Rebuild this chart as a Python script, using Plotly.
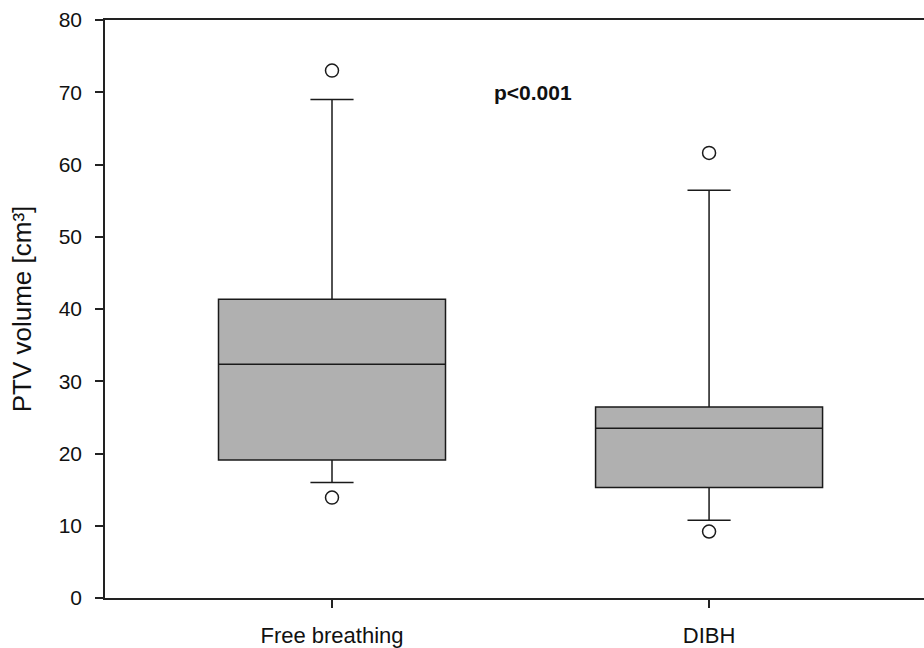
import plotly.graph_objects as go

categories = ["Free breathing", "DIBH"]
q1 = [19.1, 15.3]
median = [32.35, 23.5]
q3 = [41.35, 26.45]
lower_whisker = [16.0, 10.75]
upper_whisker = [69.0, 56.45]
outliers = [[73.0, 13.9], [61.6, 9.2]]

y_ticks = [0, 10, 20, 30, 40, 50, 60, 70, 80]

fig = go.Figure()
fig.add_trace(go.Box(
    x=categories, q1=q1, median=median, q3=q3,
    lowerfence=lower_whisker, upperfence=upper_whisker,
    fillcolor="#b0b0b0", line=dict(color="#1a1a1a", width=1.5),
    width=0.602, whiskerwidth=0.19, boxpoints=False,
    showlegend=False, hoverinfo="skip",
))
ox, oy = [], []
for c, pts in zip(categories, outliers):
    for p in pts:
        ox.append(c)
        oy.append(p)
fig.add_trace(go.Scatter(
    x=ox, y=oy, mode="markers",
    marker=dict(symbol="circle-open", size=13, color="#1a1a1a", line=dict(width=1.5)),
    showlegend=False, hoverinfo="skip",
))
fig.add_annotation(x=0.533, y=70, text="<b>p<0.001</b>", showarrow=False,
                   font=dict(family="Liberation Sans, Arial", size=21, color="#111"))

fig.update_layout(
    width=924, height=648,
    margin=dict(l=105, r=0, t=20, b=46),
    paper_bgcolor="white", plot_bgcolor="white",
    font=dict(family="Liberation Sans, Arial", color="#111"),
    xaxis=dict(
        type="category", range=[-0.602, 1.570],
        showline=True, mirror=True, linecolor="#222", linewidth=1.5,
        ticks="outside", ticklen=8, tickwidth=1.5, tickcolor="#222",
        showgrid=False, zeroline=False, tickfont=dict(size=22),
        ticklabelstandoff=9,
    ),
    yaxis=dict(
        range=[0, 80], tickvals=y_ticks,
        showline=True, linecolor="#222", linewidth=1.5,
        ticks="outside", ticklen=8, tickwidth=1.5, tickcolor="#222",
        showgrid=False, zeroline=False, tickfont=dict(size=21),
        ticklabelstandoff=9,
        title=dict(text="PTV volume [cm³]", font=dict(size=26), standoff=20),
    ),
)
fig.write_html("out.html", config={"displayModeBar": False},
               post_script="document.body.style.margin='0';document.body.style.overflow='hidden';")
